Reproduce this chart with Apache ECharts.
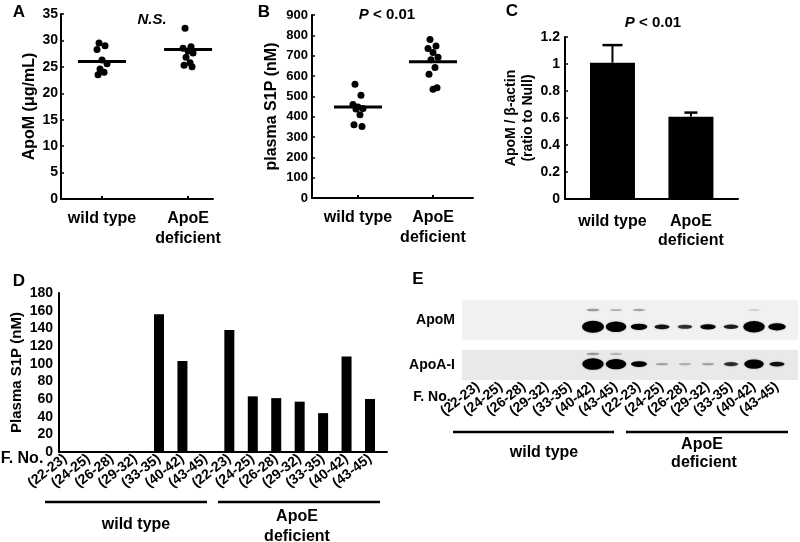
<!DOCTYPE html>
<html><head><meta charset="utf-8">
<script src="https://cdn.jsdelivr.net/npm/echarts@6/dist/echarts.min.js"></script>
<style>html,body{margin:0;padding:0;background:#fff}#c{width:800px;height:542px}</style>
</head><body><div id="c"></div>
<script>
// ---------- data ----------
const groups = ['wild type', 'ApoE\ndeficient'];
// Panel A: plasma ApoM (µg/mL)
const apoM_wt = [29.5, 29.0, 28.3, 26.3, 25.6, 24.6, 24.0, 23.5];
const apoM_ko = [32.3, 28.8, 28.5, 28.0, 27.6, 26.8, 25.8, 25.3, 25.0];
const apoM_mean = [26.0, 28.3];
// Panel B: plasma S1P (nM)
const s1p_wt = [560, 505, 460, 447, 440, 438, 410, 360, 352];
const s1p_ko = [780, 748, 735, 715, 692, 680, 642, 608, 542, 535];
const s1p_mean = [448, 670];
// Panel C: ApoM / beta-actin
const ratio_mean = [1.01, 0.61];
const ratio_err = [0.13, 0.03];
// Panel D: fractions
const fractions = ['(22-23)','(24-25)','(26-28)','(29-32)','(33-35)','(40-42)','(43-45)',
                   '(22-23)','(24-25)','(26-28)','(29-32)','(33-35)','(40-42)','(43-45)'];
const fractionS1P = [0, 0, 0, 0, 156, 103, 0, 138, 63, 61, 57, 44, 108, 60];
// Panel E: western blot band intensities (0..1)
const blotApoM      = [0, 0, 0, 0, 0, 1.0, 0.85, 0.45, 0.3, 0.25, 0.35, 0.28, 0.95, 0.55];
const blotApoMHi    = [0, 0, 0, 0, 0, 0.1, 0.07, 0.09, 0, 0, 0, 0, 0.04, 0];
const blotApoAI     = [0, 0, 0, 0, 0, 0.95, 0.85, 0.4, 0.09, 0.07, 0.09, 0.25, 0.75, 0.3];
const blotApoAIHi   = [0, 0, 0, 0, 0, 0.1, 0.06, 0, 0, 0, 0, 0, 0, 0];

// ---------- styling helpers ----------
const F = 'Liberation Sans, Arial, Helvetica, sans-serif';
const AX = {color: '#000', width: 2};
const jit = [-3, 3, -5, 0, 5, -2, 2, -4, 4, 0];

function catX(grid, min, max, extra) {
  return Object.assign({
    gridIndex: grid, type: 'value', min: min, max: max,
    axisLine: {show: true, onZero: false, lineStyle: AX},
    splitLine: {show: false},
    axisTick: {show: true, inside: true, length: 3, customValues: [1, 2], lineStyle: AX},
    axisLabel: {customValues: [1, 2], formatter: v => groups[Math.round(v) - 1],
      color: '#000', fontWeight: 'bold', fontSize: 16, fontFamily: F, lineHeight: 20, margin: 10}
  }, extra || {});
}
function valY(grid, min, max, interval, fs, margin, name, gap, nameFs, extra) {
  return Object.assign({
    gridIndex: grid, type: 'value', min: min, max: max, interval: interval,
    axisLine: {show: true, onZero: false, lineStyle: AX},
    splitLine: {show: false},
    axisTick: {show: true, inside: true, length: 3, lineStyle: {color: '#000', width: 1.5}},
    axisLabel: {color: '#000', fontWeight: 'bold', fontSize: fs, fontFamily: F, margin: margin},
    name: name, nameLocation: 'middle', nameGap: gap,
    nameTextStyle: {color: '#000', fontWeight: 'bold', fontSize: nameFs, fontFamily: F, lineHeight: 17}
  }, extra || {});
}
function dots(vals, gi, x) {
  return {
    type: 'scatter', xAxisIndex: gi, yAxisIndex: gi, symbol: 'circle', symbolSize: 7,
    itemStyle: {color: '#000', opacity: 1},
    data: vals.map((v, i) => ({value: [x, v], symbolOffset: [jit[i % jit.length], 0]}))
  };
}
function meanLine(means, gi) {
  return {
    type: 'scatter', xAxisIndex: gi, yAxisIndex: gi, symbol: 'rect', symbolSize: [48, 3],
    itemStyle: {color: '#000', opacity: 1},
    data: means.map((m, i) => [i + 1, m])
  };
}
function bands(arr, gi, yPos) {
  const d = [];
  arr.forEach((v, i) => { if (v > 0) d.push([i, yPos, v]); });
  return {
    type: 'scatter', xAxisIndex: gi, yAxisIndex: gi, symbol: 'circle',
    symbolSize: v => [12 + 10 * v[2], 1.5 + 10.5 * v[2]],
    itemStyle: {
      opacity: 1,
      color: p => 'rgba(0,0,0,' + Math.min(1, 3 * p.value[2]).toFixed(2) + ')',
      shadowBlur: 2, shadowColor: 'rgba(0,0,0,0.35)'
    },
    data: d
  };
}
const capW = [20, 13];

const grids = [
  {left: 61, top: 14, width: 152, height: 185},   // A
  {left: 312, top: 15, width: 161, height: 183},  // B
  {left: 565, top: 37, width: 173, height: 162},  // C
  {left: 59, top: 293, width: 328, height: 159},  // D
  {left: 462, top: 300, width: 336, height: 40, show: true, backgroundColor: '#f1f1f1', borderWidth: 0}, // E ApoM
  {left: 462, top: 350, width: 336, height: 30, show: true, backgroundColor: '#e9e9e9', borderWidth: 0}  // E ApoA-I
].map(g => Object.assign({containLabel: false, outerBoundsMode: 'none'}, g));

const laneLabel = {
  customValues: fractions.map((f, i) => i),
  formatter: v => fractions[Math.round(v)],
  rotate: 38, color: '#000', fontWeight: 'bold', fontSize: 14, fontFamily: F, margin: 5
};

const xAxes = [
  catX(0, 0.523, 2.29),
  catX(1, 0.387, 2.533),
  catX(2, 0.395, 2.6, {axisTick: {show: false},
    axisLabel: {customValues: [1, 2], formatter: v => groups[Math.round(v) - 1],
      color: '#000', fontWeight: 'bold', fontSize: 16, fontFamily: F, lineHeight: 19, margin: 13}}),
  {gridIndex: 3, type: 'value', min: -0.265, max: 13.725,
    axisLine: {show: true, onZero: false, lineStyle: AX}, splitLine: {show: false},
    axisTick: {show: false}, axisLabel: laneLabel},
  {gridIndex: 4, type: 'value', min: -0.696, max: 13.913, show: false},
  {gridIndex: 5, type: 'value', min: -0.696, max: 13.913,
    axisLine: {show: false}, splitLine: {show: false}, axisTick: {show: false},
    axisLabel: Object.assign({}, laneLabel, {fontSize: 14})}
];

const blotName = {color: '#000', fontWeight: 'bold', fontSize: 14, fontFamily: F, align: 'right', verticalAlign: 'middle'};
const yAxes = [
  valY(0, 0, 35, 5, 14, 3, 'ApoM (\u03bcg/mL)', 21, 16),
  valY(1, 0, 900, 100, 13, 4, 'plasma S1P (nM)', 32, 16),
  valY(2, 0, 1.2, 0.2, 14, 5, 'ApoM / \u03b2-actin\n(ratio to Null)', 27, 14),
  valY(3, 0, 180, 20, 14, 6, 'Plasma S1P (nM)', 34, 15, {axisTick: {show: false}}),
  {gridIndex: 4, type: 'value', min: 0, max: 1, axisLine: {show: false}, axisTick: {show: false},
    axisLabel: {show: false}, splitLine: {show: false},
    name: 'ApoM', nameLocation: 'middle', nameRotate: 0, nameGap: 7, nameTextStyle: Object.assign({padding: [5, 0, 0, 0]}, blotName)},
  {gridIndex: 5, type: 'value', min: 0, max: 1, axisLine: {show: false}, axisTick: {show: false},
    axisLabel: {show: false}, splitLine: {show: false},
    name: 'ApoA-I', nameLocation: 'middle', nameRotate: 0, nameGap: 7, nameTextStyle: Object.assign({padding: [2, 0, 0, 0]}, blotName)}
];

const series = [
  dots(apoM_wt, 0, 1), dots(apoM_ko, 0, 2), meanLine(apoM_mean, 0),
  dots(s1p_wt, 1, 1), dots(s1p_ko, 1, 2), meanLine(s1p_mean, 1),
  {type: 'bar', xAxisIndex: 2, yAxisIndex: 2, barWidth: 45, itemStyle: {color: '#000'},
   data: ratio_mean.map((m, i) => [i + 1, m])},
  {type: 'custom', xAxisIndex: 2, yAxisIndex: 2, z: 5,
   data: ratio_mean.map((m, i) => [i + 1, m, ratio_err[i]]),
   renderItem: (params, api) => {
     const x = api.value(0), v = api.value(1), e = api.value(2);
     const p0 = api.coord([x, v]), p1 = api.coord([x, v + e]);
     const cw = capW[params.dataIndex];
     return {type: 'group', children: [
       {type: 'line', shape: {x1: p0[0], y1: p0[1], x2: p1[0], y2: p1[1]}, style: {stroke: '#000', lineWidth: 2}},
       {type: 'line', shape: {x1: p1[0] - cw / 2, y1: p1[1], x2: p1[0] + cw / 2, y2: p1[1]}, style: {stroke: '#000', lineWidth: 2.5}}
     ]};
   }},
  {type: 'bar', xAxisIndex: 3, yAxisIndex: 3, barWidth: 10, itemStyle: {color: '#000'},
   data: fractionS1P.map((v, i) => [i, v])},
  bands(blotApoM, 4, 0.33), bands(blotApoMHi, 4, 0.75),
  bands(blotApoAI, 5, 0.53), bands(blotApoAIHi, 5, 0.87)
];

function txt(x, y, text, size, extra) {
  return {type: 'text', x: x, y: y, z: 100, silent: true,
    style: Object.assign({text: text, fill: '#000', font: 'bold ' + size + 'px ' + F, align: 'center', verticalAlign: 'middle'}, extra || {})};
}
function pText(x, y) {
  return {type: 'text', x: x, y: y, z: 100, silent: true,
    style: {text: '{i|P} < 0.01', fill: '#000', font: 'bold 15px ' + F, align: 'center', verticalAlign: 'middle',
      rich: {i: {fontStyle: 'italic', fontWeight: 'bold', fontSize: 15, fontFamily: F, fill: '#000'}}}};
}
function hline(x1, x2, y) {
  return {type: 'line', z: 100, silent: true, shape: {x1: x1, y1: y, x2: x2, y2: y}, style: {stroke: '#000', lineWidth: 2.5}};
}
const graphics = [
  txt(19, 12, 'A', 17), txt(264, 12, 'B', 17), txt(512, 11, 'C', 17),
  txt(19, 281, 'D', 17), txt(418, 279, 'E', 17),
  txt(152, 20, 'N.S.', 15, {font: 'italic bold 15px ' + F}),
  pText(387, 15), pText(653, 23),
  txt(22, 459, 'F. No.', 16), txt(432, 397, 'F. No.', 14),
  hline(45, 207, 502), hline(218, 380, 502),
  txt(136, 525, 'wild type', 16), txt(297, 517, 'ApoE', 16), txt(297, 537, 'deficient', 16),
  hline(453, 614, 432), hline(626, 788, 432),
  txt(544, 453, 'wild type', 16), txt(702, 445, 'ApoE', 16), txt(704, 463, 'deficient', 16)
];

const chart = echarts.init(document.getElementById('c'), null, {renderer: 'canvas'});
chart.setOption({
  backgroundColor: '#fff',
  animation: false,
  textStyle: {fontFamily: F},
  grid: grids, xAxis: xAxes, yAxis: yAxes, series: series, graphic: graphics
});
</script></body></html>
